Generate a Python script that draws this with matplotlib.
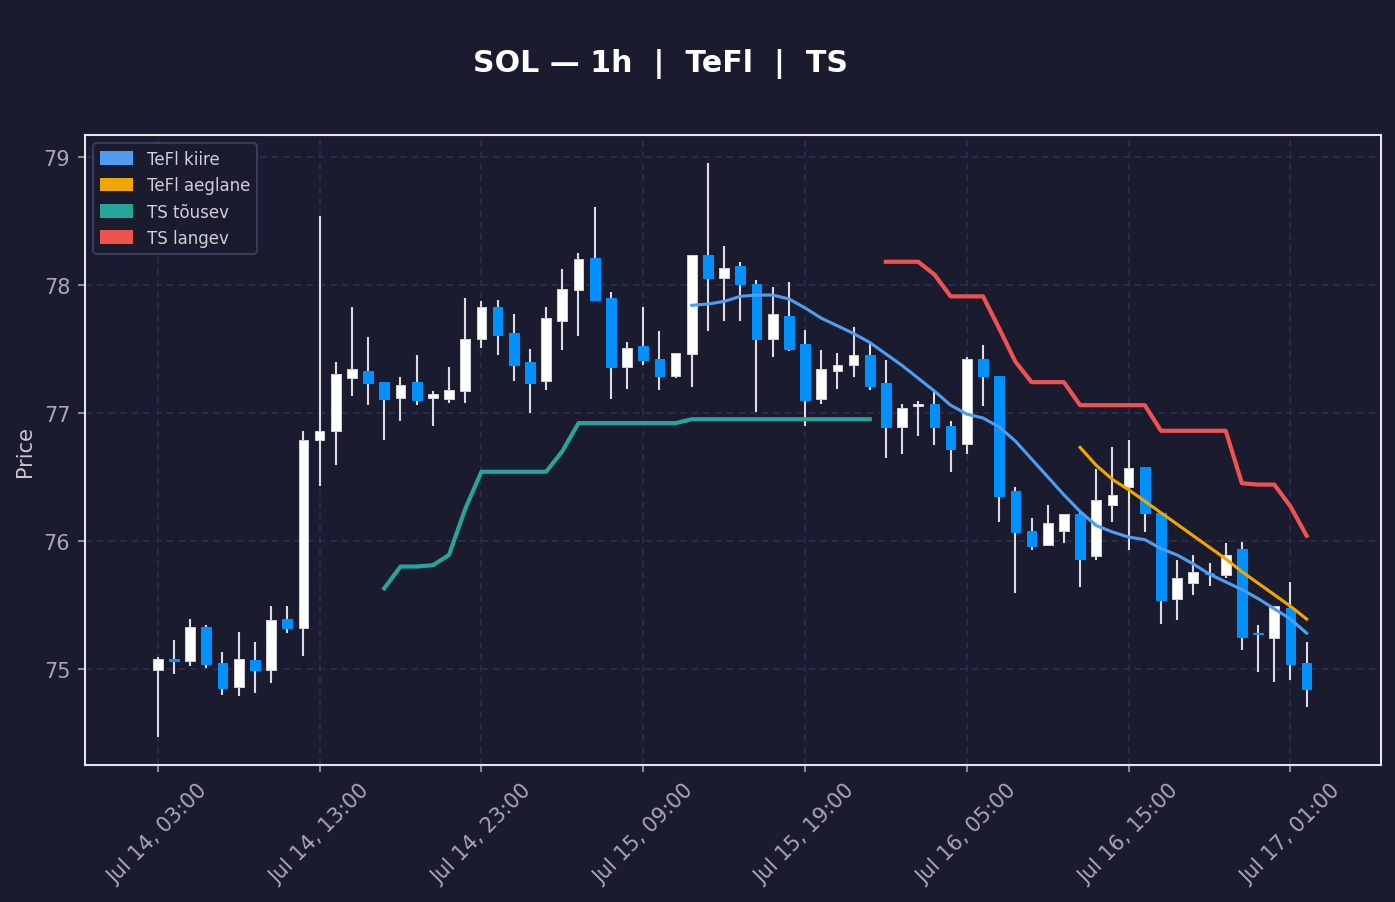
import matplotlib
matplotlib.use("Agg")
import matplotlib.pyplot as plt
import matplotlib.dates as mdates
from matplotlib.patches import Patch, Rectangle
import numpy as np
import pandas as pd

BG = "#1a1b2e"
UP = "#ffffff"
DOWN = "#0091ff"
WICK = "#dcdce4"

times = pd.date_range("2024-07-14 03:00", periods=72, freq="h")

opens = [74.99, 75.075, 75.065, 75.33, 75.05, 74.86, 75.07, 74.99, 75.39, 75.32,
         76.79, 76.86, 77.27, 77.33, 77.24, 77.12, 77.24, 77.12, 77.11, 77.17,
         77.58, 77.83, 77.62, 77.40, 77.25, 77.72, 77.96, 78.21, 77.90, 77.36,
         77.52, 77.42, 77.29, 77.46, 78.23, 78.05, 78.15, 78.01, 77.58, 77.76,
         77.54, 77.11, 77.33, 77.37, 77.45, 77.23, 76.89, 77.05, 77.07, 76.90,
         76.76, 77.42, 77.29, 76.39, 76.08, 75.97, 76.08, 76.21, 75.88, 76.28,
         76.42, 76.58, 76.22, 75.55, 75.67, 75.75, 75.73, 75.94, 75.28, 75.24,
         75.48, 75.05]
highs = [75.09, 75.23, 75.39, 75.34, 75.13, 75.29, 75.21, 75.49, 75.49, 76.86,
         78.54, 77.40, 77.83, 77.59, 77.24, 77.28, 77.45, 77.17, 77.36, 77.90,
         77.87, 77.88, 77.77, 77.50, 77.83, 78.12, 78.25, 78.61, 77.94, 77.55,
         77.83, 77.64, 77.47, 78.23, 78.95, 78.30, 78.18, 78.04, 77.98, 78.02,
         77.65, 77.49, 77.47, 77.67, 77.55, 77.41, 77.07, 77.09, 77.18, 76.94,
         77.44, 77.53, 77.29, 76.42, 76.18, 76.28, 76.21, 76.23, 76.56, 76.73,
         76.79, 76.58, 76.22, 75.85, 75.89, 75.83, 75.98, 75.99, 75.34, 75.49,
         75.68, 75.21]
lows = [74.47, 74.96, 75.02, 75.01, 74.80, 74.79, 74.81, 74.89, 75.28, 75.10,
        76.43, 76.59, 77.13, 77.06, 76.79, 76.94, 77.06, 76.90, 77.08, 77.08,
        77.51, 77.45, 77.25, 77.00, 77.18, 77.49, 77.60, 77.88, 77.11, 77.19,
        77.37, 77.18, 77.27, 77.20, 77.64, 77.72, 77.72, 77.01, 77.44, 77.48,
        76.90, 77.07, 77.19, 77.28, 77.18, 76.65, 76.68, 76.82, 76.75, 76.54,
        76.68, 77.05, 76.15, 75.59, 75.93, 75.97, 75.98, 75.64, 75.85, 76.15,
        75.93, 76.07, 75.35, 75.38, 75.58, 75.65, 75.71, 75.15, 74.98, 74.90,
        74.91, 74.70]
closes = [75.08, 75.065, 75.33, 75.04, 74.85, 75.08, 74.99, 75.38, 75.32, 76.79,
          76.86, 77.30, 77.34, 77.23, 77.11, 77.22, 77.10, 77.15, 77.18, 77.58,
          77.83, 77.61, 77.37, 77.23, 77.74, 77.97, 78.20, 77.88, 77.36, 77.51,
          77.41, 77.29, 77.47, 78.23, 78.05, 78.13, 78.01, 77.58, 77.77, 77.50,
          77.10, 77.34, 77.37, 77.45, 77.21, 76.89, 77.04, 77.07, 76.89, 76.72,
          77.42, 77.29, 76.35, 76.07, 75.96, 76.14, 76.21, 75.86, 76.32, 76.36,
          76.57, 76.22, 75.54, 75.71, 75.76, 75.74, 75.89, 75.25, 75.27, 75.49,
          75.04, 74.84]

# indicator lines: first candle index + values
kiire_start = 33
kiire = [77.84, 77.85, 77.87, 77.91, 77.92, 77.92, 77.89, 77.82, 77.74, 77.68,
         77.62, 77.55, 77.46, 77.37, 77.27, 77.17, 77.06, 76.99, 76.96, 76.89,
         76.78, 76.64, 76.50, 76.36, 76.23, 76.12, 76.07, 76.03, 76.01, 75.94,
         75.89, 75.82, 75.74, 75.68, 75.62, 75.55, 75.47, 75.39, 75.28]
aeglane_start = 57
aeglane = [76.73, 76.59, 76.48, 76.40, 76.31, 76.22, 76.13, 76.04, 75.95, 75.86,
           75.76, 75.67, 75.58, 75.49, 75.39]
ts_up_start = 14
ts_up = [75.63, 75.80, 75.80, 75.81, 75.89, 76.25, 76.54, 76.54, 76.54, 76.54,
         76.54, 76.70, 76.92, 76.92, 76.92, 76.92, 76.92, 76.92, 76.92, 76.95,
         76.95, 76.95, 76.95, 76.95, 76.95, 76.95, 76.95, 76.95, 76.95, 76.95,
         76.95]
ts_down_start = 45
ts_down = [78.18, 78.18, 78.18, 78.08, 77.91, 77.91, 77.91, 77.66, 77.40, 77.24,
           77.24, 77.24, 77.06, 77.06, 77.06, 77.06, 77.06, 76.86, 76.86, 76.86,
           76.86, 76.86, 76.45, 76.44, 76.44, 76.27, 76.04]

LINES = [("TeFl kiire", kiire_start, kiire, "#4f9cf0", 1.5),
         ("TeFl aeglane", aeglane_start, aeglane, "#f0a500", 1.5),
         ("TS tõusev", ts_up_start, ts_up, "#26a69a", 2.0),
         ("TS langev", ts_down_start, ts_down, "#ef5350", 2.0)]

fig = plt.figure(figsize=(9.3, 6.02), dpi=150, facecolor=BG)
ax = fig.add_axes([0.0609, 0.1517, 0.9291, 0.6977], facecolor=BG)

x = mdates.date2num(times)
w = 0.6 / 24
for xi, o, h, l, c in zip(x, opens, highs, lows, closes):
    col = UP if c >= o else DOWN
    ax.vlines(xi, l, h, color=WICK, lw=1.0, zorder=2)
    bottom = min(o, c)
    height = max(abs(c - o), 0.012)
    ax.add_patch(Rectangle((xi - w / 2, bottom), w, height, facecolor=col,
                           edgecolor="#d0d0d8" if col == UP else col, lw=0.5, zorder=3))

for label, start, vals, color, lw in LINES:
    ax.plot(x[start:start + len(vals)], vals, color=color, lw=lw, zorder=4)

ax.set_xlim(x[0] - 4.5 / 24, x[0] + 75.6 / 24)
ax.set_ylim(74.25, 79.17)
ax.set_xticks(x[::10])
ax.xaxis.set_major_formatter(mdates.DateFormatter("%b %d, %H:%M"))
plt.setp(ax.get_xticklabels(), rotation=45, ha="center")
ax.set_yticks([75, 76, 77, 78, 79])

ax.grid(True, ls=(0, (4, 3)), color="#2d2d4e", lw=0.8, zorder=0)
for s in ax.spines.values():
    s.set_color("#e4e4ec")
    s.set_linewidth(1.0)
ax.tick_params(colors="#8a8a96", labelcolor="#a8a8b4", labelsize=10, length=3.5, width=1.0)
ax.set_ylabel("Price", color="#c8c8d0", fontsize=10)

handles = [Patch(facecolor=c, edgecolor="none", label=lb) for lb, _, _, c, _ in LINES]
leg = ax.legend(handles=handles, loc="upper left", fontsize=8, facecolor=BG,
                edgecolor="#3a3a5c", labelcolor="#cfcfd6", framealpha=1.0,
                handlelength=2.0, handleheight=0.9)
leg.get_frame().set_linewidth(1.0)

fig.text(0.4735, 0.929, "SOL — 1h  |  TeFl  |  TS", ha="center", va="center",
         color="white", fontsize=14.4, fontweight="bold")

fig.savefig("out.png", dpi=150, facecolor=BG)
